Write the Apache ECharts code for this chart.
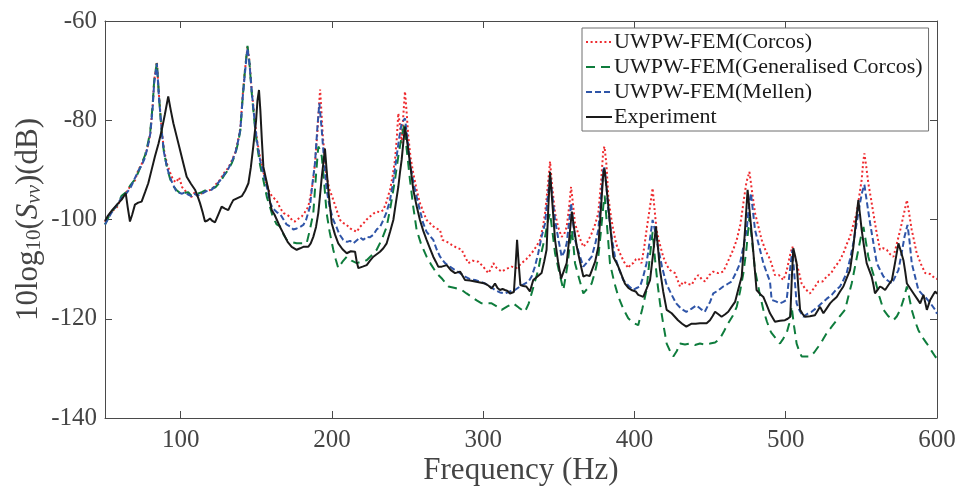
<!DOCTYPE html>
<html><head><meta charset="utf-8">
<script src="https://cdn.jsdelivr.net/npm/echarts@6/dist/echarts.min.js"></script>
<style>html,body{margin:0;padding:0;background:#fff}#c{width:960px;height:491px}</style>
</head><body><div id="c"></div>
<script>
const xTicks = [100, 200, 300, 400, 500, 600];
const yTicks = [-140, -120, -100, -80, -60];
const legendNames = ['UWPW-FEM(Corcos)', 'UWPW-FEM(Generalised Corcos)', 'UWPW-FEM(Mellen)', 'Experiment'];

const corcos = [[50,-100.5],[54,-98.5],[58,-97.5],[61,-95.5],[64,-94.5],[67,-93.2],[70,-92],[72,-90],[74,-89],[76.5,-87.2],[78.5,-85],[80,-82.5],[81.5,-77],[82.5,-72],[84.3,-68.2],[85.7,-75],[87.5,-82],[89,-86],[91,-88.8],[93,-90.5],[95,-92],[97,-92.5],[99,-91.5],[101,-93.5],[103,-94.2],[105,-94.8],[107,-95.5],[109,-94.6],[111,-95.2],[114,-94.7],[117,-94.2],[120.5,-94],[123,-93],[126,-92],[129,-90.5],[131.5,-89.6],[134,-88],[136,-86.6],[138,-84],[139.5,-81.5],[141,-75],[142.5,-70],[144.2,-65.2],[145.5,-68],[147,-74],[149,-80],[150.5,-84],[152.5,-87.5],[155,-90.8],[157,-93],[159,-94.7],[161,-95.5],[163.5,-96.2],[166,-97.8],[168,-98.7],[170,-99],[172,-99.4],[174,-100.3],[175.6,-100.4],[178,-99.8],[180,-99.4],[182,-98.6],[184.4,-97.4],[186,-95],[187.7,-92],[189,-88],[190.5,-82],[191.5,-77],[192.2,-73.8],[193.2,-79],[194,-83.3],[195.5,-88],[196.5,-91.4],[198.5,-94],[201,-96.1],[203,-98],[205.4,-100.1],[207.5,-100.7],[209.8,-101.1],[212,-101.8],[214,-102.1],[216.4,-102.5],[218.5,-101.5],[220.8,-100.8],[223,-100],[225.2,-99.4],[227.5,-98.8],[229.6,-98.4],[232,-98.5],[234,-98.1],[236,-96.5],[238.4,-94],[240,-91.5],[241.7,-88],[242.8,-84],[243.9,-78.6],[245,-81],[246.1,-84.6],[247.2,-79],[248.3,-74.2],[249.3,-78],[250.5,-83.3],[252,-87.5],[253.8,-90.7],[256,-94],[258.2,-96.7],[260.5,-98.5],[262.6,-100.1],[265,-100.8],[267,-101.4],[269,-101.8],[271.5,-102.1],[273,-104.1],[276,-104.5],[279.2,-105.1],[282,-105.6],[285.8,-106.1],[288,-107.5],[290.2,-108.8],[293,-108.3],[296.8,-108.5],[300,-109.5],[303.4,-110.8],[305,-110],[306.7,-108.8],[309,-109.8],[312.2,-110.5],[315,-110],[318.8,-109.5],[322,-109.8],[325.4,-108.8],[328.5,-108],[332,-106.8],[335,-105.5],[337.6,-104.1],[339.5,-101.5],[340.9,-98.7],[342.5,-94],[344.2,-88.3],[345.5,-93],[347.5,-98.7],[349.5,-101.5],[351.9,-103.5],[353.5,-103],[355.2,-101.5],[356.8,-97.5],[358.1,-93.4],[359.4,-97],[360.7,-100.8],[363.5,-103.5],[366.2,-105.5],[369,-104.5],[371.7,-102.8],[374,-101],[376.1,-98.7],[377.8,-93],[379.4,-86],[380.2,-85.3],[381.5,-89],[382.7,-95.4],[384.5,-99.5],[386,-102.1],[388,-105],[390.4,-106.8],[393,-108.5],[395.9,-109.8],[397.5,-109],[399.2,-108.8],[401,-108],[402.5,-107.8],[404.7,-108.8],[406.5,-105.5],[408,-102.1],[410,-98],[412,-93.7],[413.3,-98],[414.6,-102.1],[416.8,-105],[419,-107.5],[421.3,-109.2],[423.5,-110.2],[426.8,-110.8],[430.1,-113.5],[432.3,-112.5],[434.5,-112.9],[437.8,-113.2],[440,-112],[442.2,-111.2],[444.4,-112],[446.6,-112.5],[449.5,-111.2],[452.1,-110.5],[455.4,-110.8],[458.7,-110.5],[461,-109],[463.2,-107.5],[465.4,-106],[467.6,-104.1],[470,-101],[472,-96.7],[474,-92.5],[476,-90.4],[477.8,-94.5],[479.7,-98.7],[482,-101.5],[484.1,-104.1],[487,-106.5],[489.6,-108],[492.9,-111.2],[495.5,-111.2],[498.4,-112.2],[500.5,-110.5],[501.7,-108.8],[503,-107],[504.4,-105.5],[505.8,-107],[507.2,-108.8],[509,-111],[510.5,-112.9],[513,-114],[516,-114.9],[518.8,-113.8],[521.6,-112.5],[524.3,-112.5],[527.1,-111.5],[530,-110.8],[532.6,-109.5],[535.3,-108.5],[538.1,-106.8],[540.3,-105],[542.5,-103.5],[544.7,-101],[546.9,-98.7],[548.5,-95.5],[550.2,-92],[551.2,-88.5],[552,-86.7],[553.3,-89.5],[554.6,-92.7],[556.3,-95.7],[557.9,-98.7],[560,-102.5],[562.3,-106.1],[564.5,-105.8],[566.8,-106.1],[569,-107],[571.2,-107.5],[573.5,-104.8],[575.7,-102.1],[578,-99],[580.1,-96.1],[581.7,-99],[583.3,-102.1],[585,-104.5],[586.6,-106.8],[589.4,-109],[592.2,-110.8],[595.5,-111],[598.8,-111.9],[600,-112]];

const genCorcos = [[50,-101],[54,-98.5],[58,-97.2],[61,-95.2],[64,-94.5],[67,-93],[70,-91.8],[72,-90.5],[74,-89],[76.5,-87],[78.5,-84.5],[80,-82],[81.5,-77],[82.5,-72],[84.3,-68.4],[85.7,-75.2],[87.5,-82.5],[89,-86.5],[91,-89.5],[93,-91.8],[95,-93.2],[97,-94],[99,-94.5],[101,-95],[103,-94.6],[105,-94.5],[107,-95.2],[109,-95],[111,-94.8],[114,-94.5],[117,-94],[120.5,-93.8],[123,-93.5],[126,-92.5],[129,-91],[131.5,-90],[134,-88.5],[136,-87],[138,-84.5],[139.5,-82],[141,-75.5],[142.5,-70],[144.2,-65],[145.5,-68.5],[147,-74.5],[149,-81],[150.5,-85],[152.5,-89],[155,-92.5],[157,-95.5],[159,-97.4],[161,-99.5],[163.5,-101],[165.7,-101.4],[168,-103],[170.1,-104.1],[173,-104.5],[176.7,-104.8],[180,-104.8],[183.3,-104.8],[185.5,-102],[187.7,-98.7],[189.5,-91],[191,-85.3],[192.2,-86],[193.3,-87.3],[195,-93],[196.5,-98.7],[198.5,-102.5],[200.9,-106.1],[202.5,-108],[204.2,-109.8],[207,-108.5],[209.8,-107.5],[213,-108.3],[216.4,-108.8],[219.5,-108.5],[223,-108.2],[226,-107.3],[229.6,-106.1],[233,-104],[236.2,-101.5],[239,-97],[241.7,-92],[244,-87],[246.1,-83.3],[247.7,-81],[249.5,-86],[251.6,-92],[253.8,-97.5],[256,-102.1],[259,-105],[262.6,-107.5],[265.8,-109.2],[269.2,-110.8],[273,-112],[277,-113.5],[281.4,-113.8],[285.8,-114.2],[289,-114.9],[292.4,-115.6],[295.7,-116.3],[299,-116.9],[302.3,-116.9],[305.6,-116.9],[309,-117.5],[312.2,-118.2],[316,-117.5],[319.9,-116.9],[323.7,-117.8],[327.6,-118.6],[330,-117],[332,-114.9],[334.2,-112.5],[336.4,-110.2],[338.6,-106.5],[340.9,-103.5],[342.6,-100.5],[344.2,-98.7],[345.8,-102.5],[347.5,-106.8],[350.2,-110.5],[353,-114.2],[354.5,-111.5],[355.9,-108.8],[357.3,-105],[358.6,-102.1],[359.6,-105],[360.7,-108.8],[363.5,-112],[366.2,-114.9],[369,-113.9],[371.7,-112.9],[374,-110.5],[376.1,-107.5],[377.8,-102.5],[379.5,-97],[380.3,-95.2],[381.8,-101],[383.8,-108.8],[386.5,-112.5],[389.3,-115.5],[392.6,-118],[395.9,-119.9],[399.2,-120.8],[402.5,-121.3],[405.2,-118],[408,-114.2],[410,-108],[412,-102.5],[413.6,-108],[415.3,-113],[416.9,-116.9],[419,-121],[421.3,-125],[423.5,-126.5],[425.7,-127.6],[428,-126.5],[430.1,-125],[433.4,-125.2],[436.7,-125],[440,-125.3],[443.3,-125],[446.6,-125.2],[450,-125],[453.3,-124.8],[456.5,-124],[459.2,-122.5],[462,-120.9],[464.8,-119.5],[467.6,-117.6],[469.8,-114.5],[472,-110.8],[474,-106],[476,-99.5],[477.8,-104.5],[479.7,-110.2],[482.5,-114.5],[485.2,-118.2],[487.5,-120.5],[489.6,-122.3],[490.7,-122.9],[493.5,-124],[496.2,-125],[498.4,-124],[500.6,-122.9],[502.3,-121],[503.9,-117.5],[505.5,-121.5],[507.2,-125],[508.9,-126.5],[510.5,-127.6],[513.3,-127.6],[516,-127.6],[518.8,-126.8],[521.6,-125.6],[524.4,-124.3],[527.1,-122.9],[530.4,-121.6],[533.7,-120.3],[536.5,-119.2],[539.2,-118.2],[541.4,-115.5],[543.6,-112.9],[545.8,-109.5],[548,-106.1],[549.7,-103.5],[551.4,-101.5],[553,-104.5],[554.6,-107.5],[556.9,-110],[559.1,-112.2],[561.9,-115.5],[564.6,-118.2],[567.9,-119.5],[571.2,-120.3],[573.5,-119.5],[575.7,-118.2],[578,-116],[580.1,-113.5],[581.7,-115.8],[583.3,-118.2],[585.5,-120.5],[587.7,-122.3],[590.5,-123.8],[593.3,-125],[596,-126.3],[598.8,-127.6],[600,-128]];

const mellen = [[50,-101],[54,-98.8],[58,-97],[61,-95.6],[64,-94.8],[67,-93.5],[70,-91.5],[72,-90.2],[74,-89.2],[76.5,-87.5],[78.5,-85],[80,-82.6],[81.5,-77.5],[82.5,-72.5],[84.3,-68.6],[85.7,-75.5],[87.5,-82.2],[89,-86.5],[91,-89.5],[93,-91.5],[95,-93],[97,-94.2],[99,-94.6],[101,-94.8],[103,-94.5],[105,-95],[107,-95.3],[109,-94.8],[111,-95.2],[114,-94.8],[117,-94.3],[120.5,-94],[123,-93.2],[126,-92.2],[129,-90.8],[131.5,-89.8],[134,-88.2],[136,-86.8],[138,-84.2],[139.5,-81.8],[141,-75.5],[142.5,-70.5],[144.2,-65.5],[145.5,-68.5],[147,-74.2],[149,-80.5],[150.5,-84.3],[152.5,-88],[155,-91],[157,-93.5],[159,-96.5],[161,-97.8],[163.5,-98.5],[166,-99],[168,-100],[170,-101],[172.3,-101.4],[174.5,-102],[176.7,-101.8],[179,-101.5],[181.1,-101.1],[183,-100],[185.5,-97.4],[187,-93],[188.8,-88.7],[190.5,-81],[191.7,-76.6],[193.3,-82],[194.8,-88],[196.5,-94],[198.5,-97.5],[200.9,-100.1],[203,-101.5],[205,-103],[207.5,-104.1],[210,-104.5],[212,-104.3],[214.2,-104.8],[216.5,-104.2],[218.5,-103.6],[220.8,-104.1],[223,-103.5],[225,-103.6],[227.4,-103.1],[229.6,-102],[231.8,-101.5],[234,-100.1],[236.2,-98.5],[238.4,-96.1],[240.5,-92.5],[242.8,-87.3],[244.5,-83.5],[246.1,-80.6],[248.3,-79.6],[250,-84],[251.6,-88.7],[253.8,-92.5],[256,-95.4],[258.2,-98.2],[260.4,-100.8],[262.6,-102.5],[264.8,-103.3],[267,-104.1],[269.2,-106],[271.5,-107.5],[274.8,-108.8],[278,-109.5],[281.4,-110.2],[284.7,-110.8],[288,-111.5],[291.3,-112],[294.6,-112.2],[297.9,-112.5],[301.2,-112.9],[304.5,-113.5],[307.8,-114.2],[311.1,-114.7],[314.4,-114.9],[317.7,-114.5],[321,-114.2],[324.3,-113.5],[327.6,-112.9],[330,-112.5],[332,-111.5],[334.2,-109.5],[336.4,-106.8],[338.6,-103.5],[340.9,-100.8],[342.5,-96],[344.2,-91.4],[345.8,-95.5],[347.5,-100.1],[349.7,-104],[351.9,-107.5],[353.6,-106.5],[355.2,-104.8],[356.8,-100.5],[358.1,-96.7],[359.4,-100.5],[360.7,-104.1],[363.5,-107],[366.2,-109.5],[369,-108.5],[371.7,-107.5],[374,-105],[376.1,-102.1],[377.8,-96],[379.4,-90],[380.2,-89.5],[381.5,-93.5],[382.7,-98.1],[384.9,-103.5],[387.1,-107.5],[389.8,-110],[392.6,-112.2],[395.9,-113.3],[399.2,-114.2],[401.5,-113.8],[403.7,-113.5],[405.8,-111.5],[408,-108.8],[410,-104.5],[412,-100.1],[413.8,-102.5],[415.5,-105.5],[418.2,-109.5],[421,-112.9],[424.3,-115],[427.6,-116.9],[431,-118],[434.3,-118.6],[437.6,-118],[440.9,-117.3],[443.7,-118],[446.5,-118.6],[448.3,-117.5],[450,-116.6],[452.1,-114.9],[455.4,-114.3],[458.7,-113.5],[461.5,-113],[464.2,-112.5],[467,-110.8],[469.8,-108.8],[472,-105.5],[474.2,-102.1],[475.6,-97.5],[477,-94.7],[478.4,-98.5],[479.7,-102.1],[482.5,-105.5],[485.2,-108.8],[487.5,-110.8],[489.6,-112.5],[490.7,-116.2],[493.5,-116.5],[496.2,-116.9],[498.4,-116.6],[500.6,-116.2],[502.5,-111],[504.4,-106.1],[505.8,-111.5],[507.2,-116.9],[509.4,-118.5],[511.6,-119.6],[514.4,-119],[517.1,-118.6],[520.4,-117.8],[523.7,-116.9],[527,-116],[530.4,-115.2],[533.2,-114.2],[535.9,-113.5],[538.1,-112.2],[540.3,-110.8],[542.5,-108],[544.7,-104.8],[547,-100.5],[549.1,-96.7],[550.5,-94.5],[552,-93],[553.9,-97],[555.8,-100.8],[558,-104.8],[560.2,-108.8],[562.4,-110.2],[564.6,-111.5],[567.4,-112.3],[570.2,-112.9],[572.4,-111.5],[574.5,-110.2],[576.5,-107],[578.5,-103.5],[580.5,-101.1],[581.9,-104.5],[583.3,-108.8],[585.5,-111.5],[587.7,-114.2],[590,-115],[592.2,-115.6],[595.5,-116.8],[598.8,-118.2],[600,-119]];

const experiment = [[50,-100.3],[52,-99.2],[55,-98],[58.8,-96.7],[61,-96],[63.7,-94.7],[65,-97.5],[66.5,-100.4],[68,-99],[69.8,-97],[72,-96.6],[74.2,-96.4],[76.5,-94.5],[78.6,-92.7],[80.8,-90],[83,-87.3],[85.3,-84.8],[87.5,-82],[89.6,-78.8],[91.8,-75.2],[93.5,-78],[95.2,-80.6],[97.4,-83.3],[99.6,-86],[101.8,-88.7],[104,-91.4],[106.8,-92.8],[109.5,-94],[111.2,-95.3],[112.8,-96.7],[114.5,-98.5],[116.1,-100.4],[117.8,-100.2],[119.4,-99.8],[121,-100.3],[122.7,-100.6],[124.9,-99],[127.1,-97.4],[129.3,-97.8],[131.5,-98.1],[133.2,-97],[134.8,-96.1],[137.6,-95.7],[140.4,-95.3],[142.6,-94.2],[144.8,-92.7],[146.4,-89.5],[148,-85.3],[149.9,-80],[150.8,-76],[151.8,-73.9],[152.7,-78],[153.7,-84],[154.7,-89.4],[156.4,-91.8],[158,-94],[159.1,-96.5],[160.2,-98.1],[162,-99],[163.5,-100],[165.7,-101.5],[167.9,-102.8],[170.7,-104.5],[173.4,-105.5],[176.7,-106.1],[179,-105.8],[181.1,-105.5],[184.4,-105.5],[186,-104.8],[187.7,-103.5],[189.5,-101.5],[191,-98.7],[192.2,-95],[193.3,-91.4],[194.4,-88.5],[195.4,-85.7],[196.5,-90],[197.6,-94],[198.8,-97.5],[199.9,-100.8],[202,-103],[204.2,-104.8],[207,-106],[209.8,-106.8],[212.5,-106.4],[215.3,-106.5],[216.4,-108.5],[217.5,-109.8],[220.3,-109.5],[223,-109.2],[225.2,-108.3],[227.4,-107.5],[229.6,-107],[231.8,-106.5],[234,-105.8],[236.2,-104.8],[238.4,-102.5],[240.6,-100.1],[242.2,-96.8],[243.9,-93.4],[245,-90.5],[246.1,-88],[247.2,-84.5],[248.3,-81.3],[249.4,-83.5],[250.5,-86],[252.2,-90],[253.8,-94],[256,-97.3],[258.2,-100.1],[260.4,-102.3],[262.6,-104.1],[264.8,-105.8],[267,-107.5],[268.7,-108.5],[270.3,-109.5],[272.6,-109.5],[275.9,-109.2],[278.6,-110.2],[281.4,-110.8],[284.7,-110.5],[288,-112.2],[291.3,-112.3],[294.6,-112.5],[297.9,-112.7],[301.2,-112.9],[303.4,-113.3],[305.6,-113.9],[307.8,-112.9],[309.5,-113.8],[311.1,-114.2],[312.8,-114],[314.4,-114.2],[316.1,-114.4],[317.7,-114.9],[320.3,-114.6],[321.3,-110],[322.4,-104.1],[323.5,-109],[324.6,-113.2],[326.5,-113.4],[328.5,-113.5],[330.9,-114.5],[333.1,-112.2],[335.9,-111.5],[338.6,-110.8],[340.3,-108.5],[341.9,-106.1],[343,-98],[344.2,-90.4],[345.8,-97],[347.5,-104.1],[349.5,-108.5],[351.5,-111.9],[353.4,-110.3],[355.2,-108.8],[357,-103.5],[358.6,-98.4],[360.2,-102],[361.9,-105.5],[364,-108.5],[366.2,-111.5],[368.3,-111.2],[370.4,-111.4],[371.7,-111.5],[374,-108.5],[376.1,-105.5],[377.8,-98],[379.4,-90.7],[380.2,-89.7],[382,-95],[383.8,-100.8],[385,-104.5],[386,-107.5],[387.7,-108.5],[389.3,-109.5],[391.5,-111.2],[393.7,-112.9],[396,-113.8],[398,-114.2],[399.2,-113.9],[400.8,-114.5],[402.5,-115.2],[404.2,-115.4],[405.8,-115.6],[408,-114],[410.3,-112.2],[412.3,-107],[414.2,-101.4],[415.5,-105.5],[416.9,-110.2],[419,-114.5],[421.3,-118.2],[424.6,-118.9],[428.8,-120.3],[431.5,-121],[434.3,-121.6],[437.8,-121],[440.5,-121],[443.3,-120.9],[447.7,-120.9],[449.9,-120.3],[451.6,-119.5],[453.3,-118.6],[455.5,-119.1],[457.6,-119.6],[460,-119.1],[462,-118.6],[464.2,-117.6],[466.5,-116.6],[468.7,-114],[470.9,-111.5],[472.9,-103],[474.8,-94],[476.5,-99.5],[478.1,-104.8],[479.4,-109.5],[480.7,-114.2],[483,-115],[485.2,-115.6],[487.4,-117.2],[489.6,-118.9],[492.9,-120.6],[496.2,-120.4],[499.5,-120.3],[501.3,-120],[503,-119.6],[504,-112],[505,-105.8],[506.1,-107.2],[507.2,-108.8],[508.3,-113.5],[509.5,-118.2],[511.1,-119],[512.7,-119.6],[516,-119.5],[519.3,-119.3],[522.7,-117.6],[524.9,-118.9],[527.1,-117.9],[529.3,-116.9],[531.5,-116.2],[533.7,-115.6],[535.9,-114.5],[538.1,-113.5],[540.3,-111.8],[542.5,-110.2],[544.7,-105.5],[546.4,-100.5],[548,-96.1],[549.1,-99],[550.2,-102.1],[551.8,-105.5],[553.5,-108.8],[555.2,-110.2],[556.8,-111.5],[558,-113.2],[559,-114.9],[560.7,-114.2],[562.3,-113.5],[564,-113.8],[565.7,-114.2],[567.9,-113.2],[570.2,-112.2],[572.4,-108.5],[574.5,-104.8],[576.2,-106.5],[577.8,-108.2],[579,-110.5],[580.1,-112.9],[582.3,-113.9],[584.5,-114.9],[586.7,-115.9],[588.9,-116.9],[590,-116],[591.1,-115.2],[592.2,-116.7],[593.3,-118.2],[594.4,-117.2],[595.5,-116.2],[597.2,-115.3],[598.8,-114.5],[600,-115]];

const FONT = 'Liberation Serif';
const AX = '#4a4a4a';
const chart = echarts.init(document.getElementById('c'), null, {renderer: 'canvas'});

function axisCommon() {
  return {
    axisLine: {show: true, onZero: false, lineStyle: {color: AX, width: 1}},
    splitLine: {show: false}
  };
}

chart.setOption({
  animation: false,
  backgroundColor: '#fff',
  grid: {left: 105, right: 23, top: 21, bottom: 73, containLabel: false},
  legend: {
    show: true,
    orient: 'vertical',
    left: 582, top: 28,
    data: legendNames,
    backgroundColor: '#fff',
    borderColor: '#6e6e6e', borderWidth: 1, borderRadius: 0,
    padding: [3, 6, 3, 3],
    itemGap: 3, itemWidth: 26, itemHeight: 14,
    itemStyle: {opacity: 0},
    textStyle: {fontFamily: FONT, fontSize: 22, color: '#1a1a1a', padding: [0, 0, 0, -3]}
  },
  xAxis: [{
    type: 'value', min: 50, max: 600, position: 'bottom',
    ...axisCommon(),
    axisTick: {show: true, inside: true, length: 7, customValues: xTicks, lineStyle: {color: AX}},
    axisLabel: {show: true, customValues: xTicks, fontFamily: FONT, fontSize: 25, color: '#444', margin: 10},
    name: 'Frequency (Hz)', nameLocation: 'middle', nameGap: 37, nameMoveOverlap: false,
    nameTextStyle: {fontFamily: FONT, fontSize: 31, color: '#444'}
  }, {
    type: 'value', min: 50, max: 600, position: 'top',
    ...axisCommon(),
    axisTick: {show: true, inside: true, length: 7, customValues: xTicks, lineStyle: {color: AX}},
    axisLabel: {show: false}
  }],
  yAxis: [{
    type: 'value', min: -140, max: -60, interval: 20, position: 'left',
    ...axisCommon(),
    axisTick: {show: true, inside: true, length: 7, lineStyle: {color: AX}},
    axisLabel: {show: true, fontFamily: FONT, fontSize: 25, color: '#444', margin: 8},
    name: '10log{sub|10}({it|S}{subit|vv})(dB)', nameLocation: 'middle', nameGap: 60, nameRotate: 90,
    nameMoveOverlap: false,
    nameTextStyle: {fontFamily: FONT, fontSize: 31, color: '#444',
      rich: {
        sub: {fontFamily: FONT, fontSize: 21, color: '#444', verticalAlign: 'bottom', padding: [12, 0, 0, 0]},
        subit: {fontFamily: FONT, fontSize: 21, color: '#444', fontStyle: 'italic', verticalAlign: 'bottom', padding: [12, 0, 0, 0]},
        it: {fontFamily: FONT, fontSize: 31, color: '#444', fontStyle: 'italic'}
      }}
  }, {
    type: 'value', min: -140, max: -60, interval: 20, position: 'right',
    ...axisCommon(),
    axisTick: {show: true, inside: true, length: 7, lineStyle: {color: AX}},
    axisLabel: {show: false}
  }],
  series: [
    {name: legendNames[0], type: 'line', data: corcos, symbol: 'none', showSymbol: false,
     lineStyle: {color: '#ee2a2e', width: 2, type: [2, 2.6]}, itemStyle: {color: '#ee2a2e'}, z: 2},
    {name: legendNames[1], type: 'line', data: genCorcos, symbol: 'none', showSymbol: false,
     lineStyle: {color: '#0e7c3c', width: 2, type: [9, 6]}, itemStyle: {color: '#0e7c3c'}, z: 3},
    {name: legendNames[2], type: 'line', data: mellen, symbol: 'none', showSymbol: false,
     lineStyle: {color: '#2f55a8', width: 2, type: [6, 3]}, itemStyle: {color: '#2f55a8'}, z: 4},
    {name: legendNames[3], type: 'line', data: experiment, symbol: 'none', showSymbol: false,
     lineStyle: {color: '#1a1a1a', width: 2}, itemStyle: {color: '#1a1a1a'}, z: 5}
  ]
});
</script></body></html>
